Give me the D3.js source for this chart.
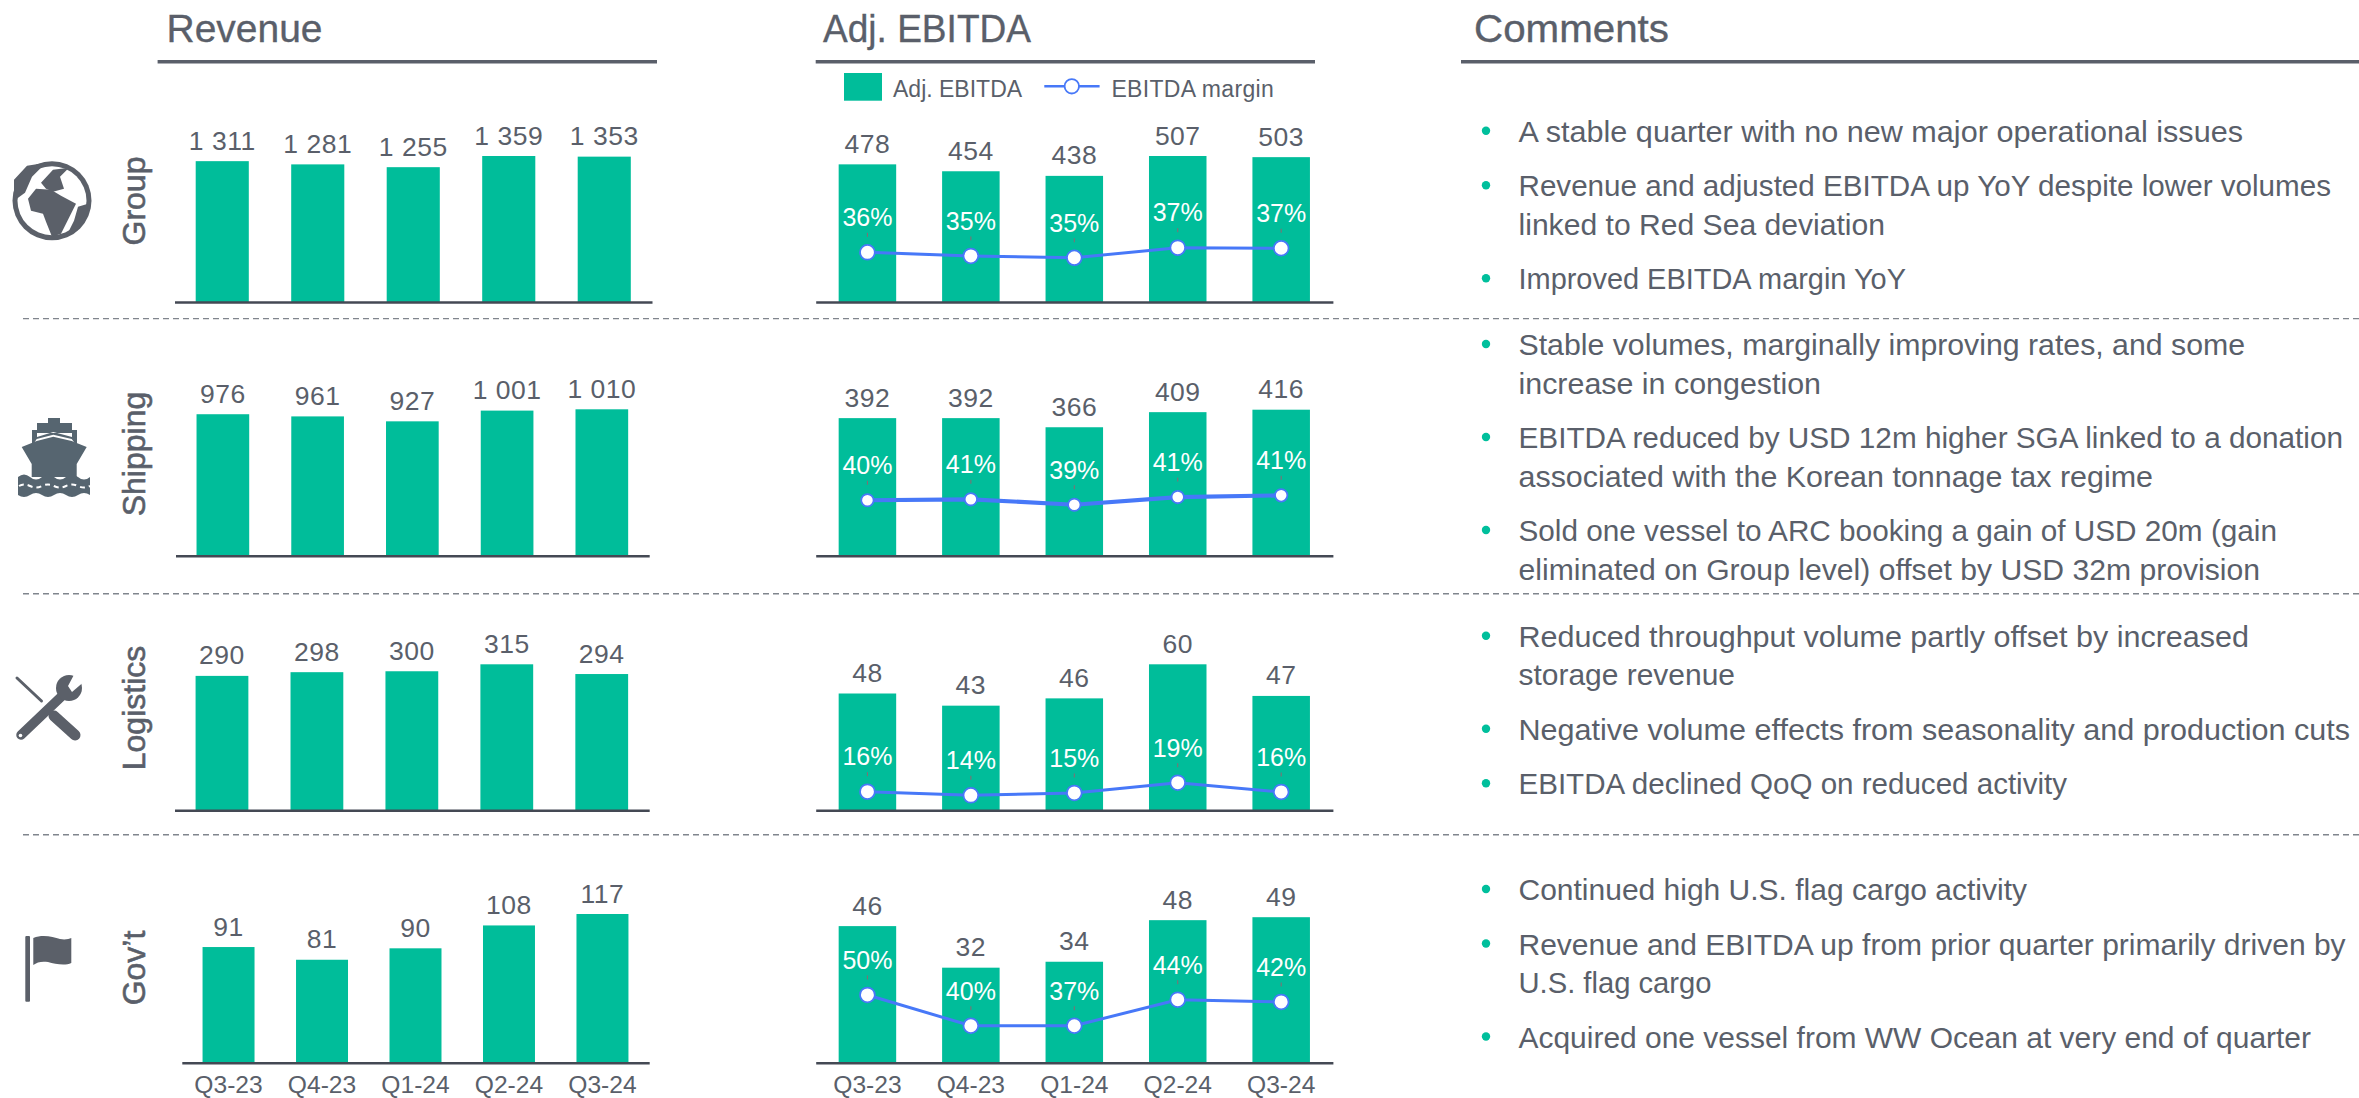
<!DOCTYPE html>
<html><head><meta charset="utf-8">
<style>html,body{margin:0;padding:0;background:#fff;overflow:hidden}svg{display:block}text{font-family:"Liberation Sans",Arial,sans-serif;fill:#5a5f6a}</style>
<script src="https://cdn.jsdelivr.net/npm/d3@7"></script>
</head><body><svg id="c" width="2359" height="1098"></svg>
<script>
const quarters = ["Q3-23","Q4-23","Q1-24","Q2-24","Q3-24"];
const rowNames = ["Group","Shipping","Logistics","Gov\u2019t"];
const revenueGroup = [1311,1281,1255,1359,1353];
const revenueShipping = [976,961,927,1001,1010];
const revenueLogistics = [290,298,300,315,294];
const revenueGov = [91,81,90,108,117];
const ebitdaGroup = [478,454,438,507,503];
const ebitdaShipping = [392,392,366,409,416];
const ebitdaLogistics = [48,43,46,60,47];
const ebitdaGov = [46,32,34,48,49];
const marginLabelsGroup = ["36%","35%","35%","37%","37%"];
const marginLabelsShipping = ["40%","41%","39%","41%","41%"];
const marginLabelsLogistics = ["16%","14%","15%","19%","16%"];
const marginLabelsGov = ["50%","40%","37%","44%","42%"];
// marker heights as drawn in the picture (the source chart's marks do not follow its rounded labels)
const marginMarksGroup = [35.5,32.9,31.6,38.8,38.4];
const marginMarksShipping = [39.6,40.3,36.4,41.9,43.1];
const marginMarksLogistics = [13.3,10.7,12.4,19.7,13.1];
const marginMarksGov = [48.4,26.4,26.4,45,43.4];
const commentsGroup = [["A stable quarter with no new major operational issues"],["Revenue and adjusted EBITDA up YoY despite lower volumes","linked to Red Sea deviation"],["Improved EBITDA margin YoY"]];
const commentsShipping = [["Stable volumes, marginally improving rates, and some","increase in congestion"],["EBITDA reduced by USD 12m higher SGA linked to a donation","associated with the Korean tonnage tax regime"],["Sold one vessel to ARC booking a gain of USD 20m (gain","eliminated on Group level) offset by USD 32m provision"]];
const commentsLogistics = [["Reduced throughput volume partly offset by increased","storage revenue"],["Negative volume effects from seasonality and production cuts"],["EBITDA declined QoQ on reduced activity"]];
const commentsGov = [["Continued high U.S. flag cargo activity"],["Revenue and EBITDA up from prior quarter primarily driven by","U.S. flag cargo"],["Acquired one vessel from WW Ocean at very end of quarter"]];

const GREEN="#00bd9a", GREY="#5a5f6a", BLUE="#4778f8", AXIS="#444954";
const fmt = v => v>=1000 ? Math.floor(v/1000)+" "+String(v%1000).padStart(3,"0") : String(v);
const svg = d3.select("#c");

// layout: right edge of every comment line, so the substitute font fills the same measure
const rightEdges = [
 [[2243],[2331,1885],[1906]],
 [[2245,1821],[2343,2153],[2277,2260]],
 [[2249,1735],[2350],[2067]],
 [[2027],[2345.6,1711.5],[2311]]
];

const rows = [
 {base:302,  revH:146,  ebH:146, revX:[174.5,652], rev:revenueGroup, eb:ebitdaGroup, ml:marginLabelsGroup, mm:marginMarksGroup, lw:3, r:7.4, cm:commentsGroup, cy:141.7, ly:201, name:rowNames[0]},
 {base:555.7,revH:146.4,ebH:146, revX:[175.5,649.2], rev:revenueShipping, eb:ebitdaShipping, ml:marginLabelsShipping, mm:marginMarksShipping, lw:4.2, r:6.2, cm:commentsShipping, cy:355, ly:454, name:rowNames[1]},
 {base:810.3,revH:146,  ebH:146, revX:[174.5,649.2], rev:revenueLogistics, eb:ebitdaLogistics, ml:marginLabelsLogistics, mm:marginMarksLogistics, lw:3, r:7.4, cm:commentsLogistics, cy:646.7, ly:708, name:rowNames[2]},
 {base:1062.7,revH:148.7,ebH:145.5,revX:[181.8,649.2], rev:revenueGov, eb:ebitdaGov, ml:marginLabelsGov, mm:marginMarksGov, lw:3, r:7.4, cm:commentsGov, cy:900, ly:968, name:rowNames[3], ticks:true}
];

function barPanel(g,vals,xr,base,h,r){
  const x=d3.scaleBand().domain(quarters).range(xr).paddingInner(0.444).paddingOuter(0.222);
  const y=d3.scaleLinear().domain([0,d3.max(vals)]).range([base,base-h]);
  g.selectAll("rect.bar").data(vals).join("rect").attr("class","bar")
    .attr("x",(d,i)=>x(quarters[i])).attr("width",x.bandwidth())
    .attr("y",d=>y(d)).attr("height",d=>base-y(d)).attr("fill",GREEN);
  g.selectAll("text.val").data(vals).join("text").attr("class","val")
    .attr("x",(d,i)=>x(quarters[i])+x.bandwidth()/2).attr("y",d=>y(d)-11.5)
    .attr("text-anchor","middle").attr("font-size",26.5).attr("letter-spacing",0.5).text(fmt);
  const ax=d3.axisBottom(x).tickSize(0).tickPadding(10);
  const a=g.append("g").attr("transform",`translate(0,${base})`).call(ax);
  a.select(".domain").attr("stroke",AXIS).attr("stroke-width",2.6);
  if(r.ticks){ a.selectAll("text").attr("font-size",24.6).attr("font-family","Liberation Sans").attr("fill",GREY).attr("y",13).attr("dy","0.71em"); }
  else a.selectAll(".tick").remove();
  return x;
}

rows.forEach((r,ri)=>{
  const g=svg.append("g");
  barPanel(g.append("g"),r.rev,r.revX,r.base,r.revH,r);
  const e=g.append("g");
  const x=barPanel(e,r.eb,[815.7,1332.9],r.base,r.ebH,r);
  const ym=d3.scaleLinear().domain([0,100]).range([r.base,r.base-140]);
  const cx=i=>x(quarters[i])+x.bandwidth()/2;
  e.append("path").datum(r.mm).attr("fill","none").attr("stroke",BLUE).attr("stroke-width",r.lw)
    .attr("d",d3.line().x((d,i)=>cx(i)).y(d=>ym(d)));
  e.selectAll("line.lead").data(r.mm).join("line").attr("class","lead")
    .attr("x1",(d,i)=>cx(i)).attr("x2",(d,i)=>cx(i)).attr("y1",d=>ym(d)-19.5).attr("y2",d=>ym(d)-15.5)
    .attr("stroke","#8a6a70").attr("stroke-width",1);
  e.selectAll("circle.m").data(r.mm).join("circle").attr("class","m")
    .attr("cx",(d,i)=>cx(i)).attr("cy",d=>ym(d)).attr("r",r.r)
    .attr("fill","#fff").attr("stroke",BLUE).attr("stroke-width",1.8);
  e.selectAll("text.ml").data(r.mm).join("text").attr("class","ml")
    .attr("x",(d,i)=>cx(i)).attr("y",d=>ym(d)-26.2).attr("text-anchor","middle")
    .attr("font-size",25).style("fill","#fff").text((d,i)=>r.ml[i]);
  // row label
  svg.append("text").attr("transform",`translate(145,${r.ly}) rotate(-90)`).attr("text-anchor","middle")
    .attr("font-size",32).attr("stroke",GREY).attr("stroke-width",0.6).text(r.name);
  // comments
  let yy=r.cy;
  r.cm.forEach((b,bi)=>{
    svg.append("circle").attr("cx",1486).attr("cy",yy-11).attr("r",4.2).attr("fill","#00bf9c");
    b.forEach((t,i)=>{
      if(i) yy+=38.5;
      svg.append("text").attr("x",1518.5).attr("y",yy).attr("font-size",29.2)
        .attr("textLength",rightEdges[ri][bi][i]-1518.5).attr("lengthAdjust","spacingAndGlyphs").text(t);
    });
    yy+=54.5;
  });
});

// headers
[["Revenue",166.5,157.6,657,156],["Adj. EBITDA",823,815.7,1315,208],["Comments",1474,1461,2359,195]].forEach(h=>{
  svg.append("text").attr("x",h[1]).attr("y",41.8).attr("font-size",39).attr("stroke",GREY).attr("stroke-width",0.35).attr("textLength",h[4]).attr("lengthAdjust","spacingAndGlyphs").text(h[0]);
  svg.append("line").attr("x1",h[2]).attr("x2",h[3]).attr("y1",61.7).attr("y2",61.7).attr("stroke",GREY).attr("stroke-width",3.6);
});
// separators
[318.6,593.7,834.7].forEach(y=>svg.append("line").attr("x1",23).attr("x2",2359).attr("y1",y).attr("y2",y)
  .attr("stroke","#80858d").attr("stroke-width",1.4).attr("stroke-dasharray","6 4"));
// legend
svg.append("rect").attr("x",844).attr("y",73).attr("width",38).attr("height",27.7).attr("fill",GREEN);
svg.append("text").attr("x",893).attr("y",96.7).attr("font-size",23).text("Adj. EBITDA");
svg.append("line").attr("x1",1044.3).attr("x2",1099.6).attr("y1",86.3).attr("y2",86.3).attr("stroke",BLUE).attr("stroke-width",2.6);
svg.append("circle").attr("cx",1071.8).attr("cy",86.3).attr("r",7.2).attr("fill","#fff").attr("stroke",BLUE).attr("stroke-width",1.8);
svg.append("text").attr("x",1111.4).attr("y",96.7).attr("font-size",23).attr("letter-spacing",0.32).text("EBITDA margin");

// icons
const ICON="#5b6069";
const globe=svg.append("g").attr("transform","translate(52,200.7)");
globe.append("circle").attr("r",39.5).attr("fill",ICON);
globe.append("circle").attr("r",34.5).attr("fill","#fff");
globe.append("path").attr("fill",ICON).attr("d","M-24,-2 L-16,-12 L-1,-11 L9,-5 L24,3 L17,17 L9,33 L0,36 L-6,21 L-9,13 L-21,10 Z");
globe.append("path").attr("fill",ICON).attr("d","M-11,-18 L1,-31 L17,-33 L8,-24 L12,-12 L1,-9 L-6,-12 Z");
globe.append("path").attr("fill",ICON).attr("d","M-38,-21 L-25,-35 L-6,-38 L-20,-24 L-27,-8 L-38,0 Z");
globe.append("path").attr("fill",ICON).attr("d","M26,6 L36,3 L34,18 L25,30 L14,36 L22,20 Z");
const SHIP="#566570";
svg.append("path").attr("fill",SHIP).attr("d","M48,418 H60 V423 H72 V430 H77 V446 L71.7,439 L53.3,434.7 L36.7,439 L32,446 V430 H37 V423 H48 Z");
svg.append("path").attr("fill","#fff").attr("d","M37,433 H72 V437 L53.3,432 L37,437 Z");
svg.append("path").attr("fill",SHIP).attr("d","M36.7,441 L53.3,436.7 L71.7,441 L86.7,447 L76.7,464 V477 H31.7 V464 L21.7,447 Z");
svg.append("path").attr("fill",SHIP).attr("d","M18,477 Q24,472 30,477 T42,477 T54,477 T66,477 T78,477 T90,477 V495 Q84,491 78,495 T66,495 T54,495 T42,495 T30,495 T18,495 Z");
svg.append("path").attr("fill","none").attr("stroke","#fff").attr("stroke-width",2).attr("stroke-dasharray","5 4").attr("d","M19,486 Q24,483 30,486 T42,486 T54,486 T66,486 T78,486 T90,486");
const tools=svg.append("g").attr("stroke",ICON).attr("fill","none").attr("stroke-linecap","round");
tools.append("line").attr("x1",17).attr("y1",678).attr("x2",41.5).attr("y2",701).attr("stroke-width",3);
tools.append("line").attr("x1",54).attr("y1",716).attr("x2",75).attr("y2",735).attr("stroke-width",11);
tools.append("line").attr("x1",21).attr("y1",735).attr("x2",62).attr("y2",696).attr("stroke-width",9.5);
svg.append("circle").attr("cx",69).attr("cy",688).attr("r",13).attr("fill",ICON);
svg.append("path").attr("fill","#fff").attr("d","M68,686 L76,671 L86,680 L72,692 Z");
svg.append("circle").attr("cx",20.5).attr("cy",735.5).attr("r",1.8).attr("fill","#fff");
svg.append("rect").attr("x",25.3).attr("y",936).attr("width",4.7).attr("height",65.7).attr("rx",1).attr("fill",ICON);
svg.append("path").attr("fill",ICON).attr("d","M33.3,938 C43,934 53,937 60,939 C65,940 69,939 71.3,938 L71.3,963 C65,966 55,964 48,962 C42,961 37,962 33.3,965 Z");
</script></body></html>
